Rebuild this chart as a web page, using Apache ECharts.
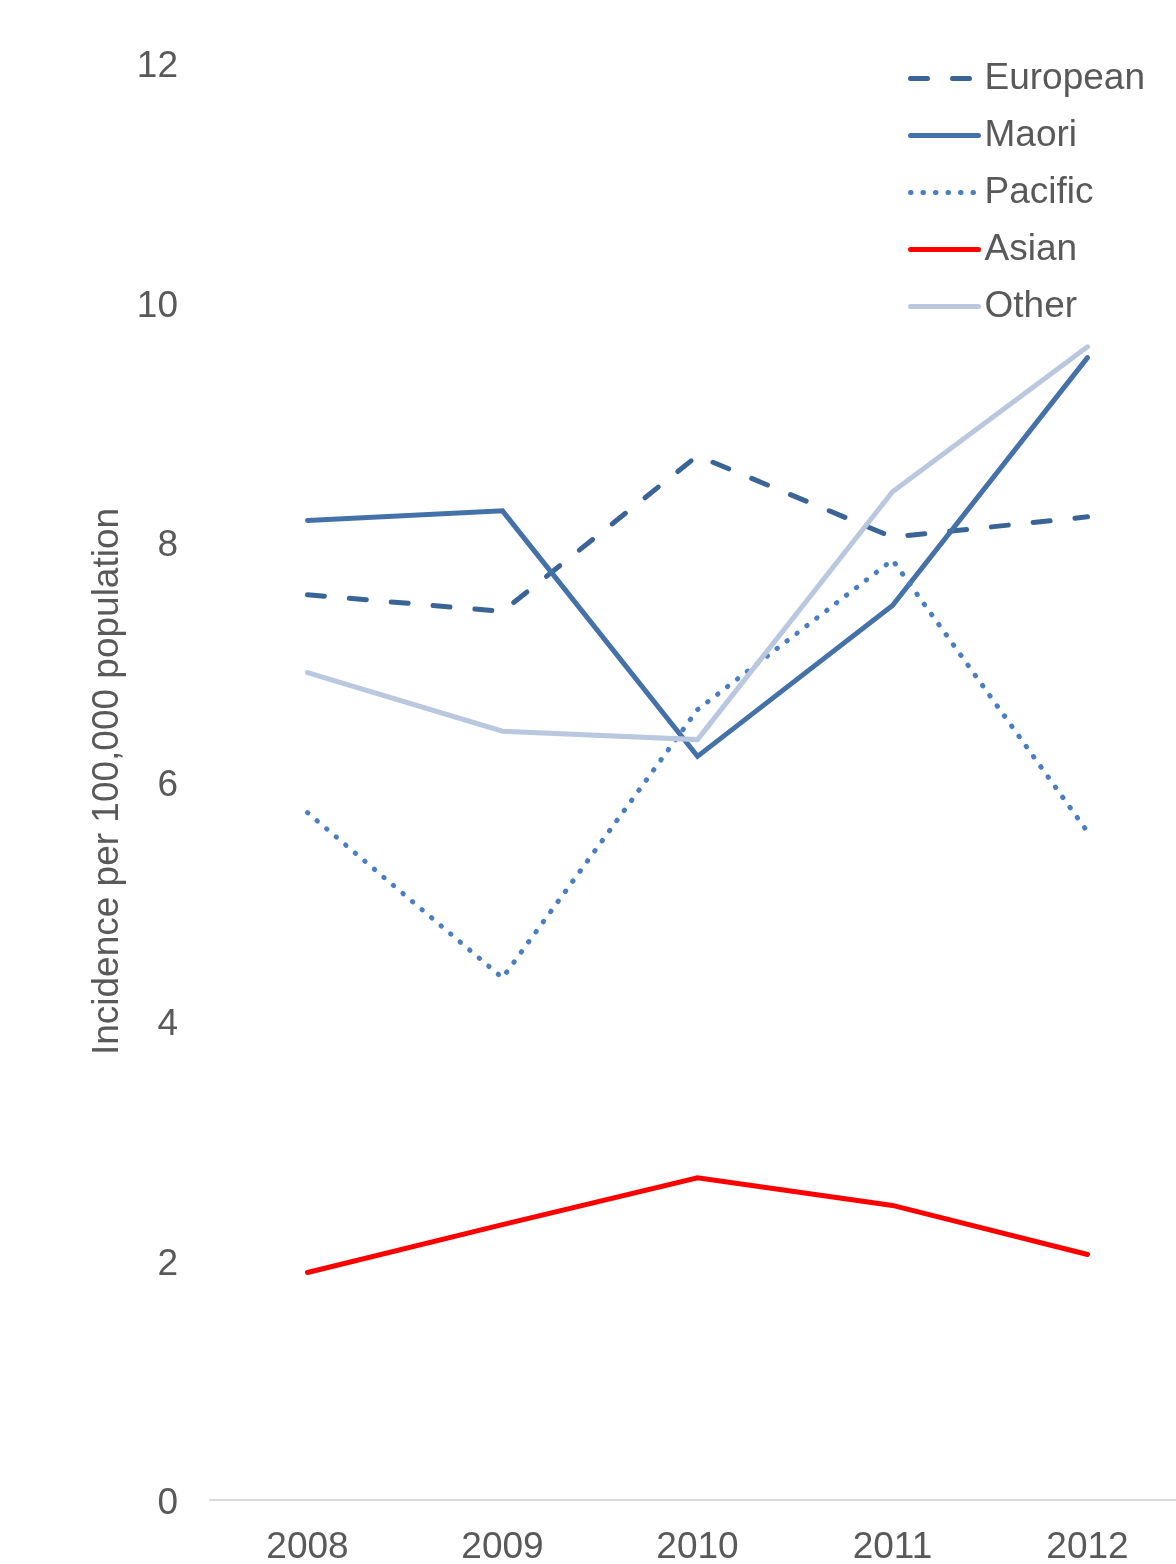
<!DOCTYPE html>
<html>
<head>
<meta charset="utf-8">
<script src="https://cdn.jsdelivr.net/npm/echarts@6/dist/echarts.min.js"></script>
<style>
  html, body { margin: 0; padding: 0; background: #fff; }
  #chart { width: 1176px; height: 1564px; }
</style>
</head>
<body>
<div id="chart"></div>
<script>
// Incidence per 100,000 population by ethnic group, 2008–2012
const years = ['2008', '2009', '2010', '2011', '2012'];
const european = [7.56, 7.42, 8.72, 8.04, 8.21];
const maori    = [8.18, 8.26, 6.21, 7.47, 9.54];
const pacific  = [5.74, 4.36, 6.60, 7.85, 5.58];
const asian    = [1.90, 2.30, 2.69, 2.46, 2.05];
const other    = [6.91, 6.42, 6.35, 8.42, 9.63];

const textColor = '#595959';
const font = '"Liberation Sans", Arial, sans-serif';
const lineWidth = 5;

function line(name, data, color, type) {
  return {
    name: name,
    type: 'line',
    data: data,
    symbol: 'none',
    lineStyle: { color: color, width: lineWidth, type: type, cap: 'round', join: 'miter' },
    itemStyle: { color: color },
    emphasis: { disabled: true }
  };
}

const chart = echarts.init(document.getElementById('chart'));
chart.setOption({
  animation: false,
  backgroundColor: '#ffffff',
  textStyle: { fontFamily: font },
  grid: { left: 210, top: 63, bottom: 64, width: 975, containLabel: false, outerBoundsMode: 'none' },
  legend: {
    orient: 'vertical',
    left: 903,
    top: 55,
    itemWidth: 68,
    itemHeight: 14,
    itemGap: 20,
    itemStyle: { opacity: 0 },
    lineStyle: { width: lineWidth },
    textStyle: { fontSize: 37, color: textColor, fontFamily: font, lineHeight: 37, padding: [0, 0, 0, 1] },
    data: ['European', 'Maori', 'Pacific', 'Asian', 'Other']
  },
  xAxis: {
    type: 'category',
    data: years,
    boundaryGap: true,
    axisLine: { lineStyle: { color: '#d9d9d9', width: 2 } },
    axisTick: { show: false },
    axisLabel: { color: textColor, fontSize: 37, margin: 29, fontFamily: font },
    splitLine: { show: false }
  },
  yAxis: {
    type: 'value',
    min: 0,
    max: 12,
    interval: 2,
    name: 'Incidence per 100,000 population',
    nameLocation: 'middle',
    nameGap: 84,
    nameTextStyle: { fontSize: 37, color: textColor, fontFamily: font },
    axisLine: { show: false },
    axisTick: { show: false },
    splitLine: { show: false },
    axisLabel: {
      margin: 32,
      formatter: function (v) { return '{t|' + v + '}'; },
      rich: { t: { color: textColor, fontSize: 37, fontFamily: font, padding: [8, 0, 0, 0] } }
    }
  },
  series: [
    line('European', european, '#3b6496', [17, 25]),
    line('Maori', maori, '#4472a8', 'solid'),
    line('Pacific', pacific, '#4a7ebf', [0.5, 12]),
    line('Asian', asian, '#ff0000', 'solid'),
    line('Other', other, '#b9c7df', 'solid')
  ]
});
</script>
</body>
</html>
